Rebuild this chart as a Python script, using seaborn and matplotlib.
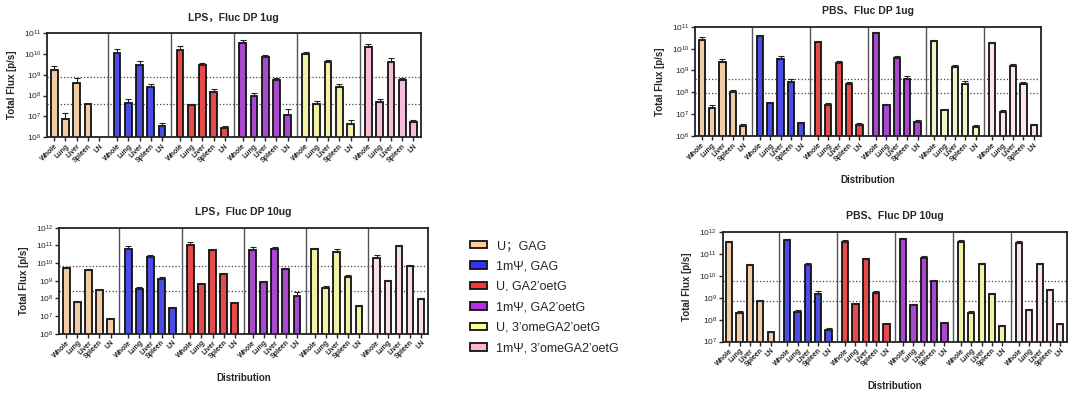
import numpy as np
import pandas as pd
import matplotlib.pyplot as plt
import seaborn as sns
from matplotlib.patches import Patch

sns.set_style("ticks")
plt.rcParams["font.family"] = ["Liberation Sans", "Noto Sans CJK SC", "DejaVu Sans"]

# dados
grupos = ["U；GAG", "1mΨ, GAG", "U, GA2’oetG", "1mΨ, GA2’oetG",
          "U, 3’omeGA2’oetG", "1mΨ, 3’omeGA2’oetG"]
orgaos = ["Whole", "Lung", "Liver", "Spleen", "LN"]

# LPS 1ug (LN do grupo U;GAG sem sinal)
lps_1_media = [1.6e9, 7.7e6, 4.0e8, 3.8e7, np.nan,
               1.1e10, 4.3e7, 3.0e9, 2.7e8, 3.4e6,
               1.6e10, 3.5e7, 3.0e9, 1.5e8, 2.8e6,
               3.3e10, 1.0e8, 6.9e9, 5.5e8, 1.1e7,
               1.0e10, 4.1e7, 4.0e9, 2.7e8, 4.3e6,
               2.1e10, 5.1e7, 4.3e9, 5.5e8, 5.1e6]
lps_1_sup = [2.5e9, 1.4e7, 6.8e8, 4.4e7, np.nan,
             1.7e10, 6.6e7, 4.5e9, 3.6e8, 4.9e6,
             2.3e10, 3.9e7, 3.8e9, 2.0e8, 3.5e6,
             4.6e10, 1.3e8, 9.2e9, 7.0e8, 2.2e7,
             1.3e10, 5.5e7, 5.3e9, 3.6e8, 6.6e6,
             3.1e10, 6.6e7, 6.1e9, 7.3e8, 6.6e6]

# PBS 1ug
pbs_1_media = [2.6e10, 2.0e7, 2.5e9, 1.0e8, 2.9e6,
               3.9e10, 3.1e7, 3.4e9, 3.0e8, 3.9e6,
               2.1e10, 2.7e7, 2.3e9, 2.4e8, 3.1e6,
               5.0e10, 2.5e7, 3.8e9, 4.2e8, 4.4e6,
               2.3e10, 1.5e7, 1.5e9, 2.3e8, 2.7e6,
               1.8e10, 1.3e7, 1.6e9, 2.5e8, 3.2e6]
pbs_1_sup = [3.5e10, 2.5e7, 3.5e9, 1.3e8, 3.4e6,
             4.3e10, 3.6e7, 4.5e9, 3.9e8, 4.4e6,
             2.3e10, 3.2e7, 2.6e9, 3.0e8, 3.8e6,
             5.5e10, 2.8e7, 4.5e9, 5.5e8, 5.3e6,
             2.6e10, 1.8e7, 1.8e9, 3.2e8, 3.1e6,
             2.1e10, 1.6e7, 1.9e9, 3.1e8, 3.6e6]

# LPS 10ug
lps_10_media = [5.0e9, 6.5e7, 4.0e9, 2.8e8, 6.5e6,
                5.9e10, 3.5e8, 2.3e10, 1.3e9, 2.8e7,
                1.1e11, 6.5e8, 5.6e10, 2.5e9, 5.7e7,
                5.6e10, 8.1e8, 6.4e10, 4.4e9, 1.4e8,
                5.9e10, 3.8e8, 4.2e10, 1.7e9, 3.7e7,
                2.0e10, 9.5e8, 8.7e10, 6.8e9, 9.1e7]
lps_10_sup = [6.2e9, 7.3e7, 4.7e9, 3.3e8, 7.3e6,
              9.1e10, 4.6e8, 2.8e10, 1.7e9, 3.4e7,
              1.6e11, 7.7e8, 6.5e10, 2.8e9, 6.5e7,
              7.7e10, 9.7e8, 7.8e10, 5.4e9, 2.4e8,
              7.3e10, 4.8e8, 6.0e10, 2.1e9, 4.2e7,
              2.7e10, 1.1e9, 1.0e11, 7.5e9, 1.0e8]

# PBS 10ug
pbs_10_media = [3.3e11, 2.1e8, 3.0e10, 7.0e8, 2.6e7,
                4.3e11, 2.2e8, 3.2e10, 1.5e9, 3.3e7,
                3.5e11, 5.1e8, 5.7e10, 1.7e9, 6.6e7,
                4.6e11, 4.8e8, 6.6e10, 5.7e9, 7.3e7,
                3.5e11, 2.1e8, 3.4e10, 1.5e9, 5.0e7,
                3.2e11, 2.8e8, 3.3e10, 2.2e9, 6.0e7]
pbs_10_sup = [3.7e11, 2.4e8, 3.3e10, 7.7e8, 2.8e7,
              4.8e11, 2.6e8, 3.6e10, 1.9e9, 4.1e7,
              4.1e11, 5.8e8, 6.6e10, 1.9e9, 7.3e7,
              5.1e11, 5.4e8, 7.6e10, 6.4e9, 8.1e7,
              4.0e11, 2.4e8, 3.9e10, 1.7e9, 5.5e7,
              3.8e11, 3.1e8, 3.7e10, 2.5e9, 6.6e7]

# linhas pontilhadas de referência
lps_1_ref = [7.6e8, 3.9e7]
pbs_1_ref = [3.9e8, 9.5e7]
lps_10_ref = [7.1e9, 2.6e8]
pbs_10_ref = [5.7e9, 7.3e8]

cores = ["#FFCC99", "#3333FF", "#FF3333", "#B233E6", "#FFFF99", "#FFB3D9"]
cores_claras = ["#FFCC99", "#3333FF", "#FF3333", "#B233E6", "#F2FFC0", "#FFE3E6"]

passo = 5.6  # distância entre grupos no eixo x


def painel(ax, media, sup, ref, ylim, paleta, titulo, xlabel):
    pos = [g * passo + i for g in range(len(grupos)) for i in range(len(orgaos))]
    df = pd.DataFrame({
        "pos": pos,
        "grupo": [g for g in grupos for _ in orgaos],
        "fluxo": media,
        "sup": sup,
    })
    ax.set_yscale("log")
    sns.barplot(data=df, x="pos", y="fluxo", hue="grupo", palette=dict(zip(grupos, paleta)),
                native_scale=True, dodge=False, width=0.6, errorbar=None,
                edgecolor="#111111", linewidth=1.3, legend=False, ax=ax)
    ok = df["fluxo"].notna()
    ax.errorbar(df["pos"][ok], df["fluxo"][ok],
                yerr=[np.zeros(ok.sum()), (df["sup"] - df["fluxo"])[ok]],
                fmt="none", ecolor="#222222", elinewidth=0.8, capsize=2, capthick=0.8, zorder=1)
    for r in ref:
        ax.axhline(r, ls=":", color="#444444", lw=0.9, zorder=0)
    for g in range(1, len(grupos)):
        ax.axvline(g * passo - 0.8, color="#555555", lw=1.0)
    ax.set_xlim(-0.65, (len(grupos) - 1) * passo + 4.65)
    ax.set_ylim(*ylim)
    ax.set_xticks(pos)
    ax.set_xticklabels(orgaos * len(grupos), rotation=45, ha="right",
                       rotation_mode="anchor", fontsize=5, fontweight="bold")
    ax.minorticks_off()
    ax.yaxis.set_major_locator(plt.LogLocator(base=10, numticks=10))
    ax.tick_params(axis="y", labelsize=6, length=3, width=1, pad=1)
    ax.tick_params(axis="x", length=3, width=1, pad=1)
    for s in ax.spines.values():
        s.set_linewidth(1.3)
        s.set_color("#222222")
    ax.set_ylabel("Total Flux [p/s]", fontsize=7, fontweight="bold", labelpad=5)
    ax.set_xlabel(xlabel, fontsize=7, fontweight="bold", labelpad=9)
    ax.set_title(titulo, fontsize=7.5, fontweight="bold", pad=9)


fig = plt.figure(figsize=(10.8, 3.94), dpi=100)
ax1 = fig.add_axes([0.0435, 0.652, 0.346, 0.264])
ax2 = fig.add_axes([0.6435, 0.655, 0.320, 0.277])
ax3 = fig.add_axes([0.0546, 0.153, 0.342, 0.269])
ax4 = fig.add_axes([0.669, 0.133, 0.319, 0.279])

painel(ax1, lps_1_media, lps_1_sup, lps_1_ref, (1e6, 1e11), cores, "LPS，Fluc DP 1ug", "")
painel(ax2, pbs_1_media, pbs_1_sup, pbs_1_ref, (1e6, 1e11), cores_claras, "PBS、Fluc DP 1ug", "Distribution")
painel(ax3, lps_10_media, lps_10_sup, lps_10_ref, (1e6, 1e12),
       cores[:5] + ["#FFD9E0"], "LPS，Fluc DP 10ug", "Distribution")
painel(ax4, pbs_10_media, pbs_10_sup, pbs_10_ref, (1e7, 1e12),
       cores[:5] + ["#FFE0E6"], "PBS、Fluc DP 10ug", "Distribution")

handles = [Patch(facecolor=c, edgecolor="#111111", linewidth=1.3) for c in cores]
fig.legend(handles, grupos, loc="upper left", bbox_to_anchor=(0.425, 0.42), frameon=False,
           fontsize=9, handlelength=1.3, handleheight=0.55, handletextpad=0.8, labelspacing=0.68)

fig.savefig("out.png", dpi=100)
